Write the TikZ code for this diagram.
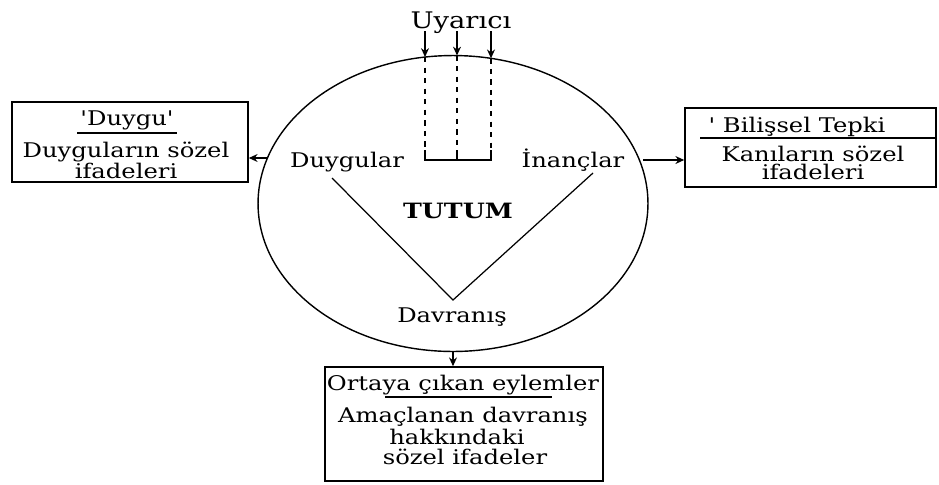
\documentclass[tikz,border=0pt]{standalone}
\usepackage{fontspec}
\setmainfont{DejaVu Serif}[Ligatures=TeXOff,FakeStretch=1.2]
\usetikzlibrary{arrows.meta,shapes.geometric}
\begin{document}
\begin{tikzpicture}[x=0.02cm,y=-0.02cm,
  txt/.style={anchor=base,inner sep=0pt,font=\fontsize{11.5}{13}\selectfont},
  boxr/.style={draw,line width=0.9pt,inner sep=0pt},
  arr/.style={line width=0.8pt,-{Stealth[length=5pt,width=4.5pt]}},
  ln/.style={line width=0.7pt}]
\useasboundingbox (0,0) rectangle (939,484);
% ellipse
\node[draw,ellipse,line width=0.8pt,minimum width=7.8cm,minimum height=5.92cm,inner sep=0pt] (tutumE) at (453,203.5) {};
% stimulus
\node[txt,font=\fontsize{13}{15}\selectfont] (uyar) at (461,28) {Uyarıcı};
\coordinate (t1) at (425,31); \coordinate (t1e) at (425,57);
\coordinate (t2) at (457,31); \coordinate (t2e) at (457,55.5);
\coordinate (t3) at (491,31); \coordinate (t3e) at (491,58.3);
\coordinate (b1) at (425,160); \coordinate (b2) at (457,160); \coordinate (b3) at (491,160);
\draw[arr] (t1) -- (t1e);
\draw[arr] (t2) -- (t2e);
\draw[arr] (t3) -- (t3e);
\draw[ln,dashed] (t1e) -- (425,150);
\draw[ln,dashed] (t2e) -- (457,150);
\draw[ln,dashed] (t3e) -- (491,150);
\draw[ln] (425,150) -- (b1) -- (b3) -- (491,150);
\draw[ln] (457,150) -- (b2);
% inner texts
\node[txt] (duygular) at (347,167) {Duygular};
\node[txt] (inanc) at (573,167) {İnançlar};
\node[txt,font=\fontsize{12}{14}\selectfont\bfseries] (tutum) at (458,218) {TUTUM};
\node[txt] (davranis) at (452,322) {Davranış};
\coordinate (vL) at (332,178);
\coordinate (vB) at (453,300);
\coordinate (vR) at (593,173);
\draw[ln] (vL) -- (vB) -- (vR);
% left box
\node[boxr,minimum width=4.72cm,minimum height=1.6cm] (lbox) at (130,142) {};
\node[txt] (lt) at (127,125) {'Duygu'};
\draw[ln] (77,133) -- (177,133);
\node[txt] (l2) at (126,157) {Duyguların sözel};
\node[txt] (l3) at (126,178) {ifadeleri};
\coordinate (lA) at (267,158);
\draw[arr] (lA) -- (lA -| lbox.east);
% right box
\node[boxr,minimum width=5.02cm,minimum height=1.58cm] (rbox) at (810.5,147.5) {};
\node[txt] (rt) at (797,132) {' Bilişsel Tepki};
\draw[ln] (700,138) -- (936,138);
\node[txt] (r2) at (813,161) {Kanıların sözel};
\node[txt] (r3) at (813,179) {ifadeleri};
\coordinate (rA) at (643,160);
\draw[arr] (rA) -- (rA -| rbox.west);
% bottom box
\node[boxr,minimum width=5.56cm,minimum height=2.28cm] (bbox) at (464,424) {};
\node[txt] (bt) at (463,390) {Ortaya çıkan eylemler};
\draw[ln] (385,397) -- (552,397);
\node[txt] (bb2) at (463,422) {Amaçlanan davranış};
\node[txt] (bb3) at (457,444) {hakkındaki};
\node[txt] (bb4) at (465,464) {sözel ifadeler};
\draw[arr] (tutumE.south) -- (bbox.north -| tutumE.south);
\end{tikzpicture}
\end{document}
